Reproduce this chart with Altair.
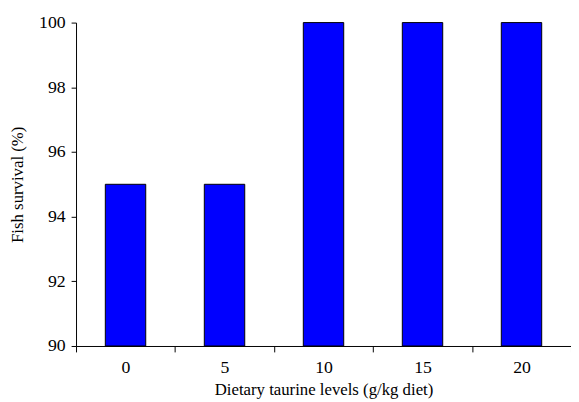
import altair as alt
import pandas as pd

levels = ["0", "5", "10", "15", "20"]
survival = [95, 95, 100, 100, 100]

df = pd.DataFrame({"level": levels, "survival": survival})

FONT = "Liberation Serif"

chart = alt.Chart(df).mark_bar(
    color="#0000FF", stroke="black", strokeWidth=1, width=41
).encode(
    x=alt.X("level:N", sort=levels,
            scale=alt.Scale(paddingInner=0, paddingOuter=0),
            axis=alt.Axis(title="Dietary taurine levels (g/kg diet)", labelAngle=0,
                          tickBand="extent", tickSize=6, labelPadding=7,
                          titlePadding=5)),
    y=alt.Y("survival:Q",
            scale=alt.Scale(domain=[90, 100], zero=False, nice=False),
            axis=alt.Axis(title="Fish survival (%)", values=[90, 92, 94, 96, 98, 100],
                          tickSize=5, labelPadding=6, titlePadding=12, grid=False)),
    y2=alt.datum(90),
).properties(
    width=502, height=328,
    autosize=alt.AutoSizeParams(type="none"),
    padding={"left": 69, "top": 12, "right": 0, "bottom": 54},
).configure_view(
    stroke=None
).configure_axis(
    labelFont=FONT, titleFont=FONT, labelFontSize=18, titleFontSize=17,
    labelColor="black", titleColor="black", titleFontWeight="normal",
    domainColor="black", tickColor="black", domainWidth=1, tickWidth=1,
)

chart.save("out.html", embed_options={"renderer": "svg", "actions": False})
